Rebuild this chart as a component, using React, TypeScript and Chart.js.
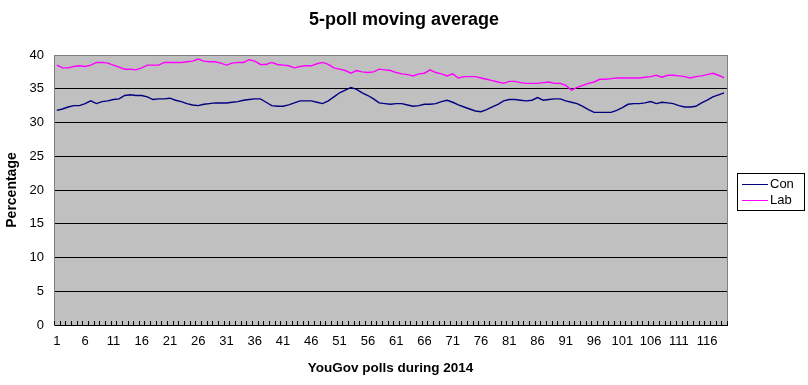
import React, { useEffect, useRef } from "react";
import { Chart, registerables } from "chart.js";

Chart.register(...registerables);

const CHART_TITLE = "5-poll moving average";
const X_TITLE = "YouGov polls during 2014";
const Y_TITLE = "Percentage";

// Poll numbers 1..119
const polls: string[] = Array.from({ length: 119 }, (_, i) => String(i + 1));
const LABEL_EVERY = 5;

const yMin = 0;
const yMax = 40;
const yStep = 5;

const con: number[] = [
  31.8, 32.0, 32.3, 32.5, 32.5, 32.8, 33.2, 32.8, 33.1, 33.2,
  33.4, 33.5, 34.0, 34.1, 34.0, 34.0, 33.8, 33.4, 33.5, 33.5,
  33.6, 33.3, 33.1, 32.8, 32.6, 32.5, 32.7, 32.8, 32.9, 32.9,
  32.9, 33.0, 33.1, 33.3, 33.4, 33.5, 33.5, 33.0, 32.5, 32.4,
  32.4, 32.6, 32.9, 33.2, 33.2, 33.2, 33.0, 32.8, 33.2, 33.8,
  34.4, 34.8, 35.2, 34.9, 34.4, 34.0, 33.5, 32.9, 32.8, 32.7,
  32.8, 32.8, 32.6, 32.4, 32.5, 32.7, 32.7, 32.8, 33.1, 33.3,
  33.0, 32.6, 32.3, 32.0, 31.7, 31.6, 31.9, 32.3, 32.7, 33.2,
  33.4, 33.4, 33.3, 33.2, 33.3, 33.7, 33.3, 33.4, 33.5, 33.5,
  33.2, 33.0, 32.8, 32.4, 31.9, 31.5, 31.5, 31.5, 31.5, 31.8,
  32.2, 32.7, 32.8, 32.8, 32.9, 33.1, 32.8, 33.0, 32.9, 32.8,
  32.5, 32.3, 32.3, 32.4, 32.9, 33.3, 33.8, 34.1, 34.4,
];

const lab: number[] = [
  38.5, 38.1, 38.1, 38.3, 38.4, 38.3, 38.5, 38.9, 38.9, 38.8,
  38.5, 38.2, 37.9, 37.9, 37.8, 38.1, 38.5, 38.5, 38.5, 38.9,
  38.9, 38.9, 38.9, 39.0, 39.1, 39.4, 39.1, 39.0, 39.0, 38.8,
  38.5, 38.8, 38.9, 38.9, 39.3, 39.1, 38.6, 38.6, 38.9, 38.6,
  38.5, 38.4, 38.1, 38.3, 38.4, 38.4, 38.7, 38.9, 38.6, 38.1,
  37.9, 37.7, 37.3, 37.7, 37.5, 37.4, 37.5, 37.9, 37.8, 37.7,
  37.4, 37.2, 37.1, 36.9, 37.2, 37.3, 37.8, 37.4, 37.2, 36.9,
  37.2, 36.6, 36.8, 36.8, 36.8, 36.6, 36.4, 36.2, 36.0, 35.8,
  36.1, 36.1, 35.9, 35.8, 35.8, 35.8, 35.9, 36.0, 35.8, 35.8,
  35.5, 34.8, 35.2, 35.5, 35.8, 36.0, 36.4, 36.4, 36.5, 36.6,
  36.6, 36.6, 36.6, 36.6, 36.7, 36.8, 37.0, 36.7, 37.0, 37.0,
  36.9, 36.8, 36.6, 36.8, 36.9, 37.1, 37.3, 37.0, 36.6,
];

const seriesNames = ["Con", "Lab"];
const seriesColors = ["#000080", "#FF00FF"];

const FONT = "'Liberation Sans', Arial, sans-serif";

const excelPlugin = {
  id: "excelLook",
  beforeDraw(chart: any) {
    const { ctx, chartArea } = chart;
    ctx.save();
    ctx.fillStyle = "#C0C0C0";
    ctx.fillRect(chartArea.left, chartArea.top, chartArea.right - chartArea.left, chartArea.bottom - chartArea.top);
    ctx.restore();
  },
  afterDraw(chart: any) {
    const { ctx, chartArea } = chart;
    const xScale = chart.scales.x;
    ctx.save();
    // right border
    ctx.strokeStyle = "#808080";
    ctx.lineWidth = 1;
    ctx.beginPath();
    ctx.moveTo(Math.round(chartArea.right) + 0.5, chartArea.top);
    ctx.lineTo(Math.round(chartArea.right) + 0.5, chartArea.bottom);
    ctx.stroke();
    // inside tick marks at category boundaries
    ctx.strokeStyle = "#000";
    const n = chart.data.labels.length;
    const step = (xScale.right - xScale.left) / n;
    ctx.beginPath();
    for (let i = 0; i <= n; i++) {
      const x = Math.round(xScale.getPixelForValue(Math.min(i, n - 1)) + (i === n ? step / 2 : -step / 2)) + 0.5;
      ctx.moveTo(x, chartArea.bottom);
      ctx.lineTo(x, chartArea.bottom - 4);
    }
    ctx.stroke();
    // title
    ctx.fillStyle = "#000";
    ctx.font = `bold 18px ${FONT}`;
    ctx.textAlign = "center";
    ctx.textBaseline = "middle";
    ctx.fillText(CHART_TITLE, chart.width / 2, 20);
    // legend
    const boxL = chartArea.right + 10;
    const boxW = 67;
    const boxH = 37;
    const boxT = (chartArea.top + chartArea.bottom) / 2 - boxH / 2 + 1;
    ctx.fillStyle = "#fff";
    ctx.fillRect(boxL, boxT, boxW, boxH);
    ctx.strokeStyle = "#000";
    ctx.strokeRect(Math.round(boxL) + 0.5, Math.round(boxT) + 0.5, boxW, boxH);
    ctx.font = `13px ${FONT}`;
    ctx.textAlign = "left";
    chart.data.datasets.forEach((ds: any, i: number) => {
      const y = Math.round(boxT + 11 + i * 16.5) + 0.5;
      ctx.strokeStyle = ds.borderColor;
      ctx.lineWidth = 1;
      ctx.beginPath();
      ctx.moveTo(boxL + 5, y);
      ctx.lineTo(boxL + 31, y);
      ctx.stroke();
      ctx.fillStyle = "#000";
      ctx.fillText(ds.label, boxL + 33, y);
    });
    ctx.restore();
  },
};

export default function App() {
  const canvasRef = useRef<HTMLCanvasElement | null>(null);

  useEffect(() => {
    document.body.style.margin = "0";
    const canvas = canvasRef.current;
    if (!canvas) return;
    const chart = new Chart(canvas, {
      type: "line",
      data: {
        labels: polls,
        datasets: [con, lab].map((d, i) => ({
          label: seriesNames[i],
          data: d,
          borderColor: seriesColors[i],
          backgroundColor: seriesColors[i],
          borderWidth: 1.4,
          pointRadius: 0,
          tension: 0,
          fill: false,
        })),
      },
      options: {
        responsive: false,
        animation: false,
        devicePixelRatio: 1,
        layout: { padding: { left: 0, top: 55, right: 81, bottom: 0 } },
        plugins: {
          legend: { display: false },
          title: { display: false },
          tooltip: { enabled: false },
        },
        scales: {
          x: {
            type: "category",
            offset: true,
            afterFit: (s: any) => { s.height = 60; },
            grid: { display: false, drawTicks: false, offset: true },
            border: { display: true, color: "#000", width: 1 },
            ticks: {
              autoSkip: false,
              maxRotation: 0,
              minRotation: 0,
              padding: 9,
              color: "#000",
              font: { family: FONT, size: 13 },
              callback: (_v: any, idx: number) => (idx % LABEL_EVERY === 0 ? polls[idx] : ""),
            },
            title: {
              display: true,
              text: X_TITLE,
              color: "#000",
              font: { family: FONT, size: 13.5, weight: "bold" },
              padding: { top: 0, bottom: 9 },
            },
          },
          y: {
            min: yMin,
            max: yMax,
            afterFit: (s: any) => { s.width = 54; },
            grid: {
              drawTicks: false,
              color: (c: any) => (c.tick && c.tick.value === yMax ? "#808080" : "#000"),
              lineWidth: 1,
            },
            border: { display: true, color: "#808080", width: 1 },
            ticks: {
              stepSize: yStep,
              padding: 10,
              color: "#000",
              font: { family: FONT, size: 13 },
            },
            title: {
              display: true,
              text: Y_TITLE,
              color: "#000",
              font: { family: FONT, size: 14, weight: "bold" },
              padding: { top: 4, bottom: 4 },
            },
          },
        },
      },
      plugins: [excelPlugin],
    });
    return () => chart.destroy();
  }, []);

  return (
    <div style={{ position: "absolute", left: 0, top: 0, width: 808, height: 385 }}>
      <canvas ref={canvasRef} width={808} height={385} style={{ width: 808, height: 385, display: "block" }} />
    </div>
  );
}
